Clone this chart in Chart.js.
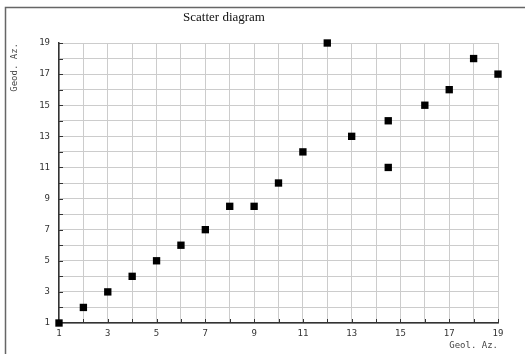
<!DOCTYPE html>
<html>
<head>
<meta charset="utf-8">
<script src="https://cdn.jsdelivr.net/npm/chart.js@4"></script>
<style>
  html, body { margin: 0; padding: 0; background: #fff; }
  #wrap { width: 525px; height: 354px; position: relative; }
</style>
</head>
<body>
<div id="wrap"><canvas id="scatterChart"></canvas></div>
<script>
// Data
const geolAz = [1, 2, 3, 4, 5, 6, 7, 8, 9, 10, 11, 12, 13, 14.5, 14.5, 16, 17, 18, 19];
const geodAz = [1, 2, 3, 4, 5, 6, 7, 8.5, 8.5, 10, 12, 19, 13, 14, 11, 15, 16, 18, 17];
const tickLabels = [1, 3, 5, 7, 9, 11, 13, 15, 17, 19];

const chartTitle = "Scatter diagram";
const xTitle = "Geol. Az.";
const yTitle = "Geod. Az.";

// Frame, title and inward tick marks
const decorPlugin = {
    id: "decor",
    afterDraw(chart) {
        const ctx = chart.ctx;
        const area = chart.chartArea;
        const xs = chart.scales.x;
        const ys = chart.scales.y;
        ctx.save();

        // outer frame (top and left)
        ctx.strokeStyle = "#666";
        ctx.lineWidth = 1.5;
        ctx.beginPath();
        ctx.moveTo(525, 7.5);
        ctx.lineTo(5.5, 7.5);
        ctx.lineTo(5.5, 354);
        ctx.stroke();

        // title
        ctx.fillStyle = "#111";
        ctx.font = "13px 'Liberation Serif', 'DejaVu Serif', serif";
        ctx.textAlign = "center";
        ctx.textBaseline = "middle";
        ctx.fillText(chartTitle, 224, 18);

        // small tick marks pointing into the plot
        ctx.strokeStyle = "#333";
        ctx.lineWidth = 1;
        ctx.beginPath();
        for (let v = 2; v <= 19; v++) {
            const px = Math.round(xs.getPixelForValue(v)) + 0.5;
            ctx.moveTo(px, area.bottom);
            ctx.lineTo(px, area.bottom - 4);
            const py = Math.round(ys.getPixelForValue(v)) + 0.5;
            ctx.moveTo(area.left, py);
            ctx.lineTo(area.left + 4, py);
        }
        ctx.stroke();
        ctx.restore();
    }
};

const tickFont = { family: "'DejaVu Sans Mono', monospace", size: 9 };
const titleFont = { family: "'DejaVu Sans Mono', monospace", size: 9 };

const ctx = document.getElementById("scatterChart").getContext("2d");
const scatterChart = new Chart(ctx, {
    type: "scatter",
    data: {
        datasets: [
            {
                label: "Az",
                data: geolAz.map((x, i) => ({ x: x, y: geodAz[i] })),
                pointStyle: "rect",
                pointRadius: 5.2,
                pointHoverRadius: 5.2,
                backgroundColor: "#000",
                borderColor: "#000",
                borderWidth: 0,
                clip: false
            }
        ]
    },
    options: {
        responsive: true,
        maintainAspectRatio: false,
        animation: false,
        layout: {
            padding: { left: 0, right: 27, top: 43, bottom: 0 }
        },
        plugins: {
            legend: { display: false },
            tooltip: { enabled: false }
        },
        scales: {
            x: {
                type: "linear",
                min: 1,
                max: 19,
                afterFit: (scale) => { scale.height = 31; },
                border: { color: "#333", width: 1.5 },
                grid: { color: "#cccccc", lineWidth: 1, tickLength: 0 },
                ticks: {
                    stepSize: 1,
                    autoSkip: false,
                    maxRotation: 0,
                    padding: 5,
                    color: "#333",
                    font: tickFont,
                    callback: (v) => tickLabels.includes(v) ? v : ""
                },
                title: {
                    display: true,
                    text: xTitle,
                    align: "end",
                    color: "#444",
                    font: titleFont,
                    padding: { top: 0, bottom: 3 }
                }
            },
            y: {
                type: "linear",
                min: 1,
                max: 19,
                afterFit: (scale) => { scale.width = 59; },
                border: { color: "#333", width: 1.5 },
                grid: { color: "#cccccc", lineWidth: 1, tickLength: 0 },
                ticks: {
                    stepSize: 1,
                    autoSkip: false,
                    padding: 9,
                    color: "#333",
                    font: tickFont,
                    callback: (v) => tickLabels.includes(v) ? v : ""
                },
                title: {
                    display: true,
                    text: yTitle,
                    align: "end",
                    color: "#444",
                    font: titleFont,
                    padding: { top: 9, bottom: 0 }
                }
            }
        }
    },
    plugins: [decorPlugin]
});
</script>
</body>
</html>
